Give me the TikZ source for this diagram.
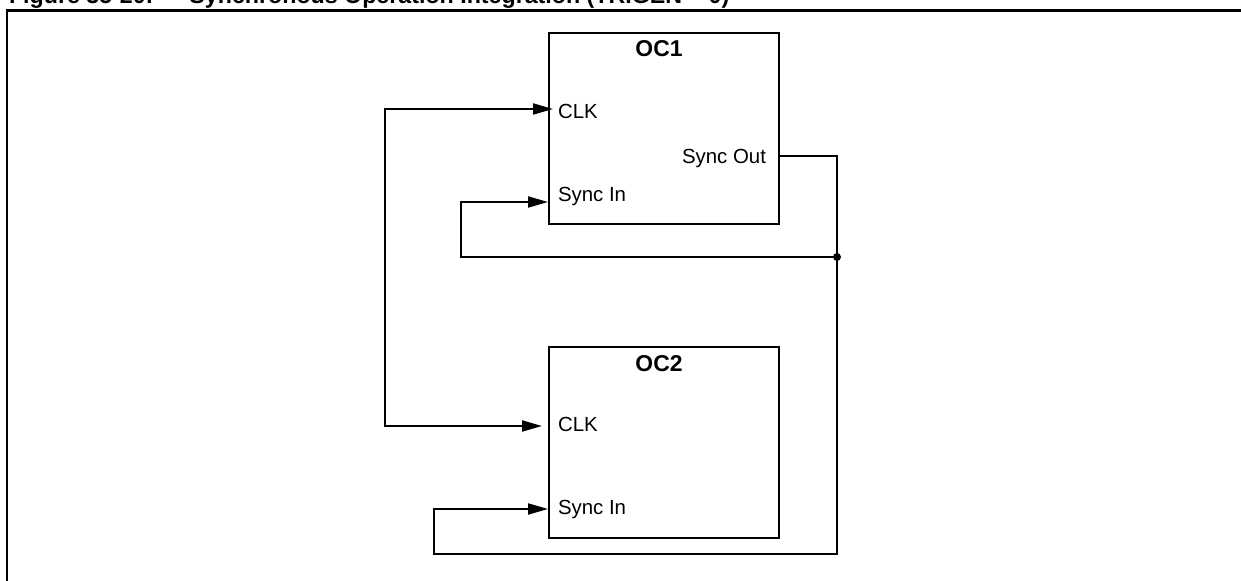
\documentclass[tikz,border=0pt]{standalone}
\usepackage{fontspec}
\setmainfont{Liberation Sans}
\usetikzlibrary{positioning, arrows.meta}

\begin{document}
\begin{tikzpicture}[x=1bp, y=-1bp, line width=2bp,
  >={Triangle[length=20bp, width=11bp]},
  block/.style={draw, line width=2.3bp, minimum width=230bp, minimum height=191bp, inner sep=0pt},
  blockname/.style={anchor=north, inner sep=0pt, font=\bfseries\fontsize{23}{27}\selectfont},
  pin/.style={inner sep=0pt, font=\fontsize{20.5}{24}\selectfont}]

% Page and frame
\useasboundingbox (0,0) rectangle (1241,581);
\clip (0,0) rectangle (1241,581);
\draw[line width=2.5bp] (7,10.5) rectangle (1260,600);
\node[anchor=base west, inner sep=0pt, font=\bfseries\fontsize{23.3}{27}\selectfont] (title) at (8,3.5)
  {Figure 35-20:\hspace{36bp}Synchronous Operation Integration (TRIGEN = 0)};

% Blocks
\node[block] (oc1) at (664,128.5) {};
\node[block, below=121bp of oc1] (oc2) {};
\node[blockname, xshift=-5bp] (oc1name) at ([yshift=-8bp]oc1.north) {OC1};
\node[blockname, xshift=-5bp] (oc2name) at ([yshift=-8bp]oc2.north) {OC2};

% Pin labels
\node[pin, anchor=base west] (clk1) at (557,119) {CLK};
\node[pin, anchor=base west] (syncin1) at (557,201.5) {Sync In};
\node[pin, anchor=base east] (syncout) at (767,164) {Sync Out};
\node[pin, anchor=base west] (clk2) at (557,431) {CLK};
\node[pin, anchor=base west] (syncin2) at (557,514) {Sync In};

% Pin points and corners
\coordinate (clk1in) at (553,109);
\coordinate (sin1in) at (548,202);
\coordinate (soutpin) at (oc1.east |- 0,156);
\coordinate (clk2in) at (542,426);
\coordinate (sin2in) at (548,509);
\coordinate (clkbus) at (385,426);
\coordinate (join) at (837,257);
\coordinate (corner) at (837,554);
\coordinate (ret1) at (461,257);
\coordinate (ret2) at (434,554);

% Clock to both blocks
\draw[<->] (clk1in) -| (clkbus) -- (clk2in);

% Sync Out fed back to both Sync In
\draw[->] (soutpin) -| (corner) -- (ret2) |- (sin2in);
\draw[->] (join) -- (ret1) |- (sin1in);
\fill (join) circle (4bp);

\end{tikzpicture}
\end{document}
